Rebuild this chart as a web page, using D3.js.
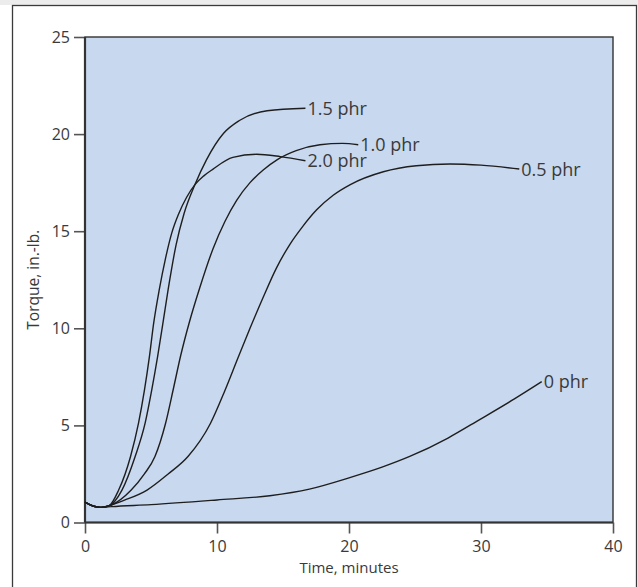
<!DOCTYPE html>
<html>
<head>
<meta charset="utf-8">
<script src="https://cdn.jsdelivr.net/npm/d3@7/dist/d3.min.js"></script>
<style>
  html, body { margin: 0; padding: 0; background: #ffffff; }
  svg { display: block; }
  text { font-family: "Open Sans", Lato, sans-serif; fill: #3a3a3a; }
</style>
</head>
<body>
<svg id="chart" width="638" height="587"></svg>
<script>
// Cure curves: torque (in.-lb.) vs time (minutes) at several accelerator levels
const xTicks = [0, 10, 20, 30, 40];
const yTicks = [0, 5, 10, 15, 20, 25];

const phr0 = [[0,1.05],[0.6,0.85],[1.2,0.78],[2,0.82],[5,0.92],[10,1.16],[14,1.38],[17,1.72],[20,2.3],[22.5,2.85],[24.6,3.4],[27.5,4.35],[29.9,5.3],[32.5,6.35],[34.6,7.25]];
const phr05 = [[0,1.05],[0.6,0.85],[1.2,0.78],[1.9,0.88],[3.0,1.15],[4.7,1.67],[6.3,2.5],[7.8,3.4],[9.5,5.1],[10.6,6.8],[11.6,8.5],[12.5,10.0],[13.5,11.6],[14.5,13.1],[15.5,14.3],[16.5,15.25],[17.55,16.1],[18.8,16.85],[20.1,17.4],[22.6,18.06],[25.1,18.37],[27.65,18.46],[30,18.4],[32.9,18.2]];
const phr10 = [[0,1.05],[0.6,0.85],[1.2,0.78],[2.0,0.9],[3.5,1.67],[4.5,2.5],[5.3,3.4],[6.1,5.1],[6.7,6.9],[7.25,8.6],[7.9,10.3],[8.7,12.1],[9.7,14.1],[10.6,15.5],[11.5,16.6],[12.5,17.5],[13.5,18.15],[14.6,18.7],[16,19.15],[17.8,19.45],[19.5,19.52],[20.7,19.45]];
const phr15 = [[0,1.05],[0.6,0.85],[1.2,0.78],[1.8,0.85],[2.8,1.67],[3.8,3.4],[4.55,5.1],[5.05,6.8],[5.5,8.54],[5.9,10.25],[6.3,12],[6.9,14.3],[7.5,15.9],[8.33,17.4],[9.2,18.67],[10.5,20.04],[11.7,20.7],[13.8,21.2],[16.7,21.33]];
const phr20 = [[0,1.05],[0.6,0.85],[1.2,0.78],[1.8,0.85],[2.55,1.67],[3.45,3.4],[4.05,5.1],[4.5,6.8],[4.88,8.54],[5.2,10.25],[5.63,12],[6.1,13.6],[6.57,14.9],[7.1,15.9],[7.7,16.75],[8.33,17.4],[9.0,17.85],[9.7,18.2],[11.2,18.8],[13.0,18.96],[14.8,18.84],[16.7,18.63]];

const seriesNames = ["0 phr", "0.5 phr", "1.0 phr", "1.5 phr", "2.0 phr"];
const seriesData = [phr0, phr05, phr10, phr15, phr20];

const svg = d3.select("#chart");
const plotLeft = 85, plotRight = 613, plotTop = 37, plotBottom = 522.5;

const x = d3.scaleLinear().domain([0, 40]).range([plotLeft, plotRight]);
const y = d3.scaleLinear().domain([0, 25]).range([plotBottom, plotTop]);

// outer frame
svg.append("rect").attr("x", 0).attr("y", 0).attr("width", 638).attr("height", 5).attr("fill", "#ececec");
svg.append("rect").attr("x", 12.5).attr("y", 5.5).attr("width", 624).attr("height", 600)
  .attr("fill", "#ffffff").attr("stroke", "#3a3a3a").attr("stroke-width", 1.3);

// plot area
svg.append("rect").attr("x", plotLeft).attr("y", plotTop)
  .attr("width", plotRight - plotLeft).attr("height", plotBottom - plotTop)
  .attr("fill", "#c8d8ef").attr("stroke", "#333").attr("stroke-width", 1.4);

// axes
const xAxis = d3.axisBottom(x).tickValues(xTicks).tickSize(11).tickPadding(7);
const yAxis = d3.axisLeft(y).tickValues(yTicks).tickSize(11).tickPadding(4);

const gx = svg.append("g").attr("transform", `translate(0,${plotBottom})`).call(xAxis);
const gy = svg.append("g").attr("transform", `translate(${plotLeft},0)`).call(yAxis);
[gx, gy].forEach(g => {
  g.attr("font-family", null).attr("font-size", null);
  g.select(".domain").remove();
  g.selectAll(".tick line").attr("stroke", "#555").attr("stroke-width", 1.6);
  g.selectAll(".tick text").attr("font-size", 16).attr("fill", "#3a3a3a");
});

// heavier left and bottom axis lines
svg.append("line").attr("x1", plotLeft).attr("x2", plotLeft).attr("y1", plotTop).attr("y2", plotBottom)
  .attr("stroke", "#333").attr("stroke-width", 2.2);
svg.append("line").attr("x1", plotLeft).attr("x2", plotRight).attr("y1", plotBottom).attr("y2", plotBottom)
  .attr("stroke", "#333").attr("stroke-width", 2.2);

// curves, each labelled at its end point
const line = d3.line().x(d => x(d[0])).y(d => y(d[1])).curve(d3.curveMonotoneX);
seriesData.forEach((data, i) => {
  svg.append("path").datum(data).attr("d", line)
    .attr("fill", "none").attr("stroke", "#1e1e1e").attr("stroke-width", 1.4);
  const end = data[data.length - 1];
  svg.append("text").attr("x", x(end[0]) + 2).attr("y", y(end[1]) + 6.5)
    .attr("font-size", 18).text(seriesNames[i]);
});

// axis titles
svg.append("text").attr("x", (plotLeft + plotRight) / 2).attr("y", 572.5)
  .attr("text-anchor", "middle").attr("font-size", 15).text("Time, minutes");
svg.append("text").attr("transform", `translate(39,${(plotTop + plotBottom) / 2}) rotate(-90)`)
  .attr("text-anchor", "middle").attr("font-size", 15.5).text("Torque, in.-lb.");
</script>
</body>
</html>
